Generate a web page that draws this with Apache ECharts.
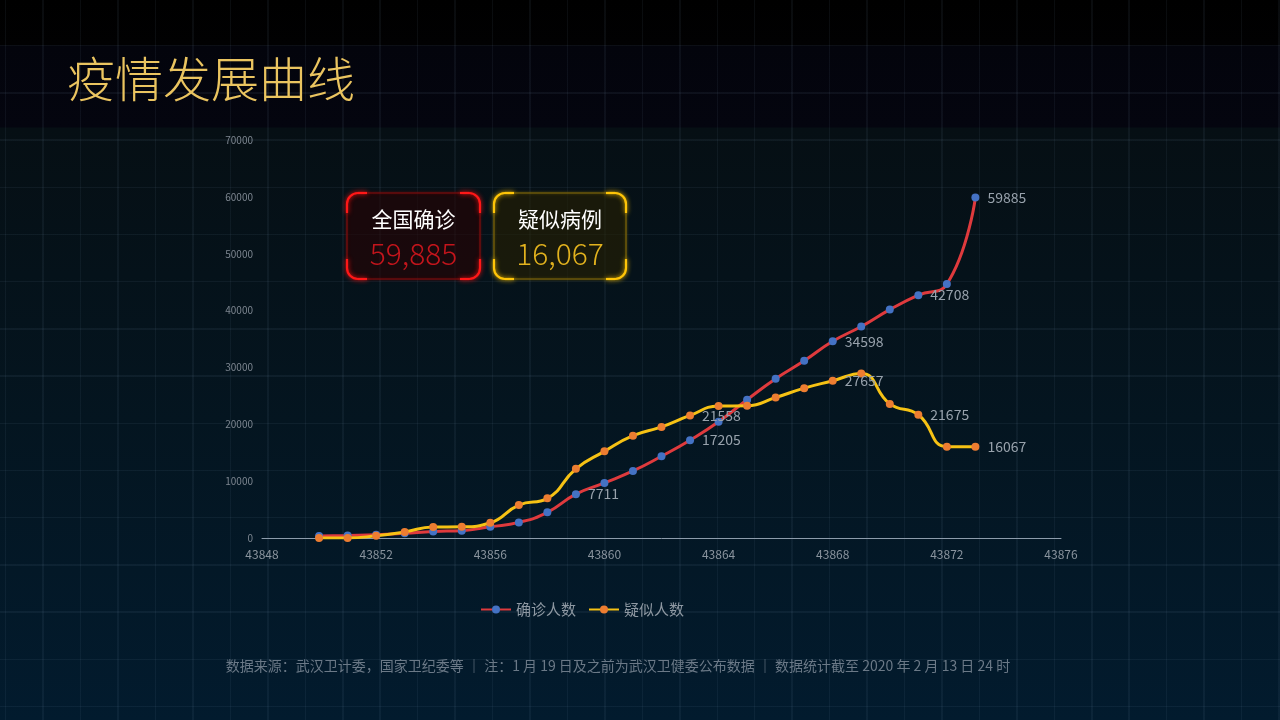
<!DOCTYPE html>
<html>
<head>
<meta charset="utf-8">
<script src="https://cdn.jsdelivr.net/npm/echarts@6/dist/echarts.min.js"></script>
<style>
html,body{margin:0;padding:0;width:1280px;height:720px;overflow:hidden;background:#000}
#bg{position:absolute;left:0;top:0;width:1280px;height:720px;
background:
 repeating-linear-gradient(to right, transparent 0px, transparent 5px, rgba(130,160,190,0.075) 5px, rgba(130,160,190,0.075) 6.5px, transparent 6.5px, transparent 37.45px),
 repeating-linear-gradient(to bottom, transparent 0px, transparent 45px, rgba(130,160,190,0.08) 45px, rgba(130,160,190,0.08) 46.5px, transparent 46.5px, transparent 47.2px),
 linear-gradient(to bottom, #000 0px, #010102 45px, #03040c 46px, #04050f 127px, #060f14 128px, #041520 420px, #021b2e 720px);
}
#chart{position:absolute;left:0;top:0;width:1280px;height:720px}
</style>
</head>
<body>
<div id="bg"></div>
<div id="chart"></div>
<script>
// ---- data ----
const titleText = '疫情发展曲线';
const seriesNames = ['确诊人数', '疑似人数'];
const days = [43850, 43851, 43852, 43853, 43854, 43855, 43856, 43857, 43858, 43859, 43860, 43861,
              43862, 43863, 43864, 43865, 43866, 43867, 43868, 43869, 43870, 43871, 43872, 43873];
const confirmed = [330, 440, 571, 830, 1150, 1287, 1975, 2744, 4515, 7711, 9692, 11791,
                   14380, 17205, 20438, 24324, 28018, 31161, 34598, 37198, 40171, 42708, 44653, 59885];
const suspected = [0, 0, 393, 1072, 1930, 1965, 2684, 5794, 6973, 12167, 15238, 17988,
                   19544, 21558, 23214, 23260, 24702, 26359, 27657, 28942, 23589, 21675, 16067, 16067];
const confirmedLabelDays = [43859, 43863, 43868, 43871, 43873];
const suspectedLabelDays = [43863, 43868, 43871, 43873];
const xMin = 43848, xMax = 43876, xInterval = 4;
const yMin = 0, yMax = 70000, yInterval = 10000;
const cardTitles = ['全国确诊', '疑似病例'];
const cardValues = [59885, 16067];
const footerText = '数据来源：武汉卫计委，国家卫纪委等 ｜ 注：1 月 19 日及之前为武汉卫健委公布数据 ｜ 数据统计截至 2020 年 2 月 13 日 24 时';

// ---- helpers ----
const FONT = '"Noto Sans CJK SC", "Noto Sans", sans-serif';
function fmt(n){ return n.toLocaleString('en-US'); }

function card(x, y, w, h, bright, dim, title, value, valueColor){
  const r = 11, ext = 9, lw = 2.2;
  const els = [];
  els.push({type:'rect', shape:{x:x, y:y, width:w, height:h, r:r},
    style:{fill:'rgba(0,0,0,0.4)', stroke:dim, lineWidth:1.6, shadowBlur:3, shadowColor:dim}, z:10});
  const cs = {stroke:bright, lineWidth:lw, fill:null, shadowBlur:5, shadowColor:bright};
  const corners = [
    [x+r, y+r, Math.PI, Math.PI*1.5],
    [x+w-r, y+r, Math.PI*1.5, Math.PI*2],
    [x+w-r, y+h-r, 0, Math.PI*0.5],
    [x+r, y+h-r, Math.PI*0.5, Math.PI]
  ];
  corners.forEach(c => els.push({type:'arc', shape:{cx:c[0], cy:c[1], r:r, startAngle:c[2], endAngle:c[3], clockwise:true}, style:Object.assign({}, cs), z:11}));
  const lines = [
    [x, y+r, x, y+r+ext], [x+r, y, x+r+ext, y],
    [x+w-r-ext, y, x+w-r, y], [x+w, y+r, x+w, y+r+ext],
    [x+w, y+h-r-ext, x+w, y+h-r], [x+w-r-ext, y+h, x+w-r, y+h],
    [x+r, y+h, x+r+ext, y+h], [x, y+h-r-ext, x, y+h-r]
  ];
  lines.forEach(l => els.push({type:'line', shape:{x1:l[0], y1:l[1], x2:l[2], y2:l[3]}, style:Object.assign({}, cs), z:11}));
  els.push({type:'text', x:x+w/2, y:y+26, z:12, style:{text:title, fill:'#ffffff', fontSize:21, fontFamily:FONT,
    align:'center', verticalAlign:'middle', textAlign:'center', textVerticalAlign:'middle'}});
  els.push({type:'text', x:x+w/2, y:y+61, z:12, style:{text:fmt(value), fill:valueColor, fontSize:30, fontWeight:300, fontFamily:FONT,
    align:'center', verticalAlign:'middle', textAlign:'center', textVerticalAlign:'middle'}});
  return els;
}

const chart = echarts.init(document.getElementById('chart'), null, {renderer:'canvas'});

function seriesData(vals, labelDays){
  return days.map((d, i) => ({value:[d, vals[i]], label:{show: labelDays.indexOf(d) >= 0}}));
}

const graphics = [
  {type:'text', x:67, y:79, z:12, style:{text:titleText, fill:'#eac460', fontSize:48, fontWeight:300, fontFamily:FONT,
    align:'left', verticalAlign:'middle', textAlign:'left', textVerticalAlign:'middle'}},
  {type:'text', x:618, y:666, z:12, style:{text:footerText, fill:'#6b7987', fontSize:14, fontFamily:FONT,
    align:'center', verticalAlign:'middle', textAlign:'center', textVerticalAlign:'middle'}}
].concat(
  card(347, 193, 133, 86, '#ff1818', 'rgba(120,12,12,0.8)', cardTitles[0], cardValues[0], '#c3151c'),
  card(494, 193, 132, 86, '#ffc508', 'rgba(120,98,10,0.8)', cardTitles[1], cardValues[1], '#e2b21e')
);

const labelStyle = {position:'right', distance:8, color:'#98a2ac', fontSize:14, fontFamily:FONT};

chart.setOption({
  backgroundColor:'transparent',
  animation:false,
  grid:{left:262, right:219, top:140, bottom:182, containLabel:false},
  xAxis:{type:'value', min:xMin, max:xMax, interval:xInterval,
    axisLine:{show:true, lineStyle:{color:'#8d9cab', width:1}},
    axisTick:{show:false}, splitLine:{show:false},
    axisLabel:{color:'#8a949e', fontSize:12, margin:10, fontFamily:FONT, formatter:v => String(v)}},
  yAxis:{type:'value', min:yMin, max:yMax, interval:yInterval,
    axisLine:{show:false}, axisTick:{show:false}, splitLine:{show:false},
    axisLabel:{color:'#7d8690', fontSize:10, margin:9, fontFamily:FONT, formatter:v => String(v)}},
  legend:{left:475, top:597, itemWidth:30, itemHeight:10, itemGap:12,
    textStyle:{color:'#8e98a2', fontSize:15, fontFamily:FONT},
    data:seriesNames},
  series:[
    {name:seriesNames[0], type:'line', smooth:0.5, symbol:'circle', symbolSize:8, showSymbol:true,
     lineStyle:{color:'#df3a3d', width:3}, itemStyle:{color:'#4472c4'},
     label:Object.assign({show:false}, labelStyle),
     data:seriesData(confirmed, confirmedLabelDays), z:3},
    {name:seriesNames[1], type:'line', smooth:0.5, symbol:'circle', symbolSize:8, showSymbol:true,
     lineStyle:{color:'#f6c214', width:3}, itemStyle:{color:'#ed7d31'},
     label:Object.assign({show:false}, labelStyle),
     data:seriesData(suspected, suspectedLabelDays), z:4}
  ],
  graphic:{elements:graphics}
});
</script>
</body>
</html>
